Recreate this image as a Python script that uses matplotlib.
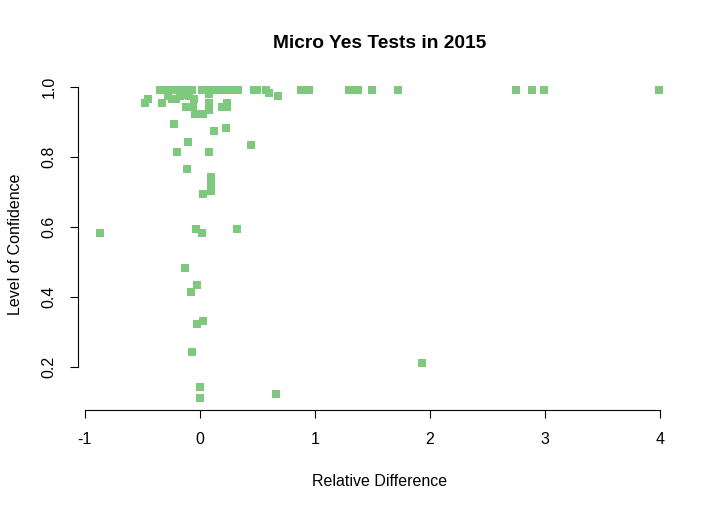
"""
plot.py: scatter of relative difference vs level of confidence
Micro Yes tests, 2015
"""

import numpy as np
import matplotlib.pyplot as plt

plt.rcParams['font.family'] = ['Liberation Sans', 'DejaVu Sans']

# tests that reached the top of the confidence scale
top_diff = [-0.35, -0.29, -0.25, -0.18, -0.13, -0.07, 0.02, 0.07, 0.12, 0.17,
            0.23, 0.28, 0.33, 0.47, 0.50, 0.58, 0.88, 0.95, 1.30, 1.35,
            1.38, 1.50, 1.72, 2.75, 2.89, 2.99, 3.99]
top_conf = [0.99] * len(top_diff)

# the rest of the tests
rel_diff = [-0.48, -0.45, -0.33, -0.28, -0.24, -0.21, -0.17, -0.12, -0.09, -0.05,
            -0.12, -0.06, -0.04, 0.03, 0.08, 0.08, 0.08, 0.19, 0.24, 0.24,
            0.60, 0.68, -0.22, 0.12, 0.23, -0.10, 0.45, -0.20, 0.08, -0.11,
            0.10, 0.10, 0.10, 0.10, 0.03, -0.03, 0.02, 0.32, -0.865, -0.13,
            -0.02, -0.08, 0.03, -0.02, -0.07, 0.0, 0.0, 0.66, 1.93]
confidence = [0.954, 0.966, 0.954, 0.974, 0.966, 0.966, 0.974, 0.977, 0.974, 0.966,
              0.943, 0.943, 0.923, 0.923, 0.98, 0.954, 0.934, 0.943, 0.954, 0.943,
              0.983, 0.974, 0.894, 0.874, 0.883, 0.842, 0.834, 0.814, 0.814, 0.765,
              0.742, 0.725, 0.711, 0.702, 0.693, 0.593, 0.582, 0.593, 0.583, 0.484,
              0.433, 0.413, 0.332, 0.324, 0.244, 0.143, 0.112, 0.123, 0.212]

x_ticks = [-1, 0, 1, 2, 3, 4]
y_ticks = [0.2, 0.4, 0.6, 0.8, 1.0]


def main():
    x = np.array(top_diff + rel_diff)
    y = np.array(top_conf + confidence)

    fig = plt.figure(figsize=(7.22, 5.09), dpi=100)
    ax = fig.add_axes([0.108, 0.1945, 0.835, 0.652])

    ax.scatter(x, y, marker='s', s=29, color='#7FC97F', linewidths=0)

    # R style 4% padding around the data
    xr = x.max() - x.min()
    yr = y.max() - y.min()
    ax.set_xlim(x.min() - 0.04 * xr, x.max() + 0.04 * xr)
    ax.set_ylim(y.min() - 0.04 * yr, y.max() + 0.04 * yr)

    # only left and bottom axes, spanning the ticks
    ax.spines[['top', 'right']].set_visible(False)
    ax.spines['bottom'].set_bounds(x_ticks[0], x_ticks[-1])
    ax.spines['left'].set_bounds(y_ticks[0], y_ticks[-1])
    ax.set_xticks(x_ticks)
    ax.set_xticklabels([str(t) for t in x_ticks])
    ax.set_yticks(y_ticks)
    ax.set_yticklabels(['%.1f' % t for t in y_ticks], rotation=90, va='center')
    ax.tick_params(direction='out', length=6, width=0.8, labelsize=11.5)
    ax.tick_params(axis='x', pad=10)
    ax.tick_params(axis='y', pad=9.5)

    ax.set_title("Micro Yes Tests in 2015", fontsize=13.8, fontweight='bold', pad=21.5)
    ax.set_xlabel("Relative Difference", fontsize=11.5, labelpad=19)
    ax.set_ylabel("Level of Confidence", fontsize=11.5, labelpad=13)

    fig.savefig("out.png", dpi=100)


if __name__ == '__main__':
    main()
